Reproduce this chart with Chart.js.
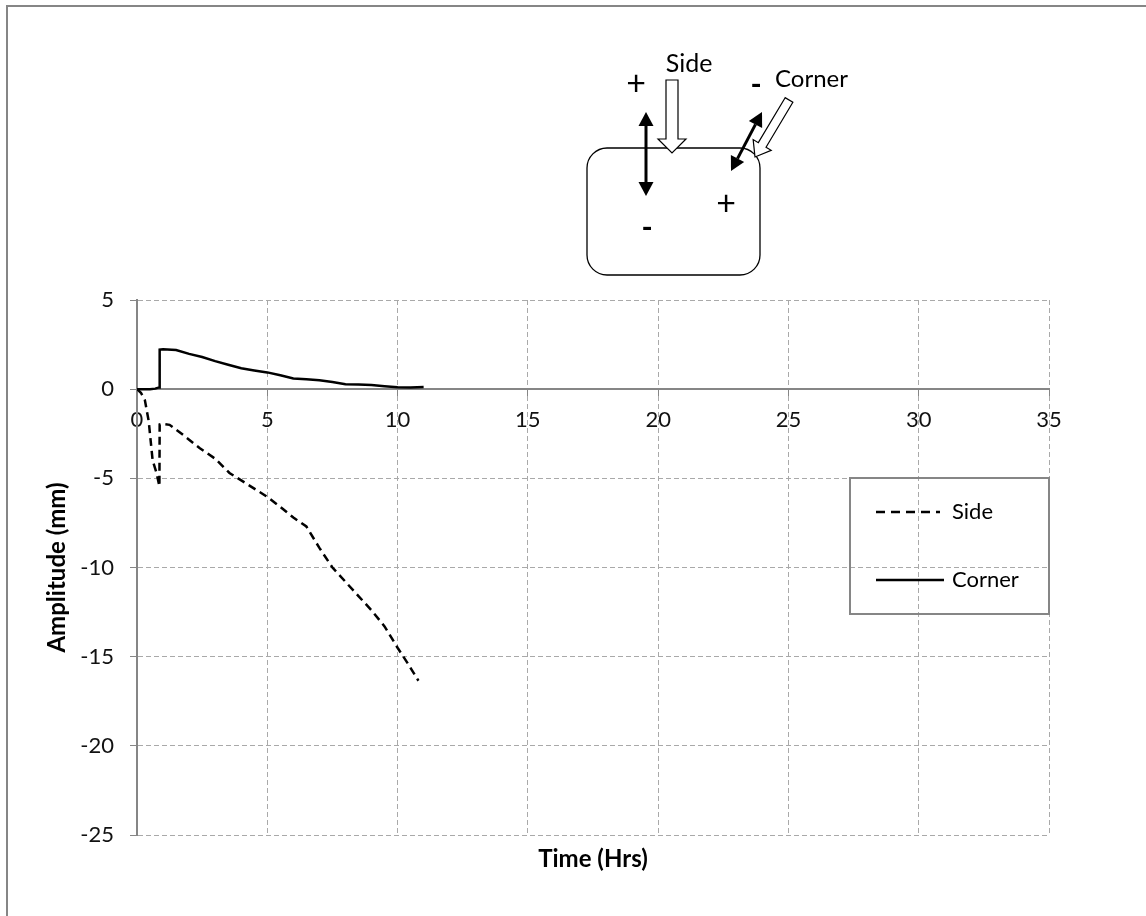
<!DOCTYPE html>
<html>
<head>
<meta charset="utf-8">
<script src="https://cdn.jsdelivr.net/npm/chart.js@4"></script>
<style>
  html, body { margin: 0; padding: 0; background: #fff; }
  #wrap { width: 1146px; height: 916px; }
</style>
</head>
<body>
<div id="wrap"><canvas id="chart" width="1146" height="916"></canvas></div>
<script>
// Corner series (solid)
const cornerTime = [0, 0.5, 0.7, 0.85, 0.87, 1.0, 1.5, 2.0, 2.5, 3.0, 3.5, 4.0, 4.5, 5.0, 5.5, 6.0, 6.5, 7.0, 7.5, 8.0, 8.5, 9.0, 9.5, 10.0, 10.5, 11.0];
const cornerAmp  = [0, 0, 0.03, 0.1, 2.22, 2.24, 2.2, 1.98, 1.8, 1.57, 1.37, 1.17, 1.05, 0.94, 0.78, 0.6, 0.55, 0.5, 0.4, 0.28, 0.26, 0.23, 0.17, 0.11, 0.1, 0.12];

// Side series (dashed)
const sideTime = [0, 0.15, 0.3, 0.45, 0.6, 0.75, 0.86, 0.87, 1.0, 1.25, 1.8, 2.4, 3.0, 3.55, 4.2, 4.96, 5.5, 6.0, 6.5, 7.0, 7.5, 8.0, 8.5, 9.0, 9.5, 10.0, 10.4, 10.8];
const sideAmp  = [0, -0.2, -0.6, -1.8, -4.0, -4.7, -5.45, -1.98, -1.95, -2.0, -2.6, -3.3, -3.9, -4.7, -5.3, -6.0, -6.6, -7.2, -7.7, -8.9, -10.0, -10.8, -11.6, -12.4, -13.3, -14.5, -15.4, -16.35];

const xTicks = [0, 5, 10, 15, 20, 25, 30, 35];
const yTicks = [5, 0, -5, -10, -15, -20, -25];

const FONT = 'Lato, Carlito, Calibri, sans-serif';
const GRID = '#a9a9a9';
const AXIS = '#868686';

const toPoints = (xs, ys) => xs.map((x, i) => ({ x, y: ys[i] }));

// block arrow (open or filled) from tail to tip
function blockArrow(ctx, x1, y1, x2, y2, shaftW, headW, headL, fill) {
  const len = Math.hypot(x2 - x1, y2 - y1);
  const dx = (x2 - x1) / len, dy = (y2 - y1) / len;
  const px = -dy, py = dx;
  const bx = x2 - dx * headL, by = y2 - dy * headL;
  ctx.beginPath();
  ctx.moveTo(x1 + px * shaftW / 2, y1 + py * shaftW / 2);
  ctx.lineTo(bx + px * shaftW / 2, by + py * shaftW / 2);
  ctx.lineTo(bx + px * headW / 2, by + py * headW / 2);
  ctx.lineTo(x2, y2);
  ctx.lineTo(bx - px * headW / 2, by - py * headW / 2);
  ctx.lineTo(bx - px * shaftW / 2, by - py * shaftW / 2);
  ctx.lineTo(x1 - px * shaftW / 2, y1 - py * shaftW / 2);
  ctx.closePath();
  ctx.fillStyle = fill;
  ctx.fill();
  ctx.lineWidth = 1.2;
  ctx.strokeStyle = '#000';
  ctx.stroke();
}

function doubleArrow(ctx, x1, y1, x2, y2) {
  const len = Math.hypot(x2 - x1, y2 - y1);
  const dx = (x2 - x1) / len, dy = (y2 - y1) / len;
  const px = -dy, py = dx;
  const hl = 14, hw = 7.5;
  ctx.strokeStyle = '#000';
  ctx.lineWidth = 3;
  ctx.beginPath();
  ctx.moveTo(x1 + dx * hl, y1 + dy * hl);
  ctx.lineTo(x2 - dx * hl, y2 - dy * hl);
  ctx.stroke();
  ctx.fillStyle = '#000';
  [[x1, y1, 1], [x2, y2, -1]].forEach(([tx, ty, s]) => {
    const bx = tx + dx * hl * s, by = ty + dy * hl * s;
    ctx.beginPath();
    ctx.moveTo(tx, ty);
    ctx.lineTo(bx + px * hw, by + py * hw);
    ctx.lineTo(bx - px * hw, by - py * hw);
    ctx.closePath();
    ctx.fill();
  });
}

const decorations = {
  id: 'decorations',
  afterDraw(chart) {
    const ctx = chart.ctx;
    const area = chart.chartArea;
    ctx.save();

    // outer frame
    ctx.strokeStyle = AXIS;
    ctx.lineWidth = 2;
    ctx.beginPath();
    ctx.moveTo(7, 916);
    ctx.lineTo(7, 6);
    ctx.lineTo(1146, 6);
    ctx.stroke();

    // axis titles
    ctx.fillStyle = '#000';
    ctx.font = 'bold 24px ' + FONT;
    ctx.textAlign = 'center';
    ctx.textBaseline = 'middle';
    ctx.fillText('Time (Hrs)', (area.left + area.right) / 2, 859);
    ctx.save();
    ctx.translate(57, (area.top + area.bottom) / 2);
    ctx.rotate(-Math.PI / 2);
    ctx.fillText('Amplitude (mm)', 0, 0);
    ctx.restore();

    // legend box
    const lx = 850, ly = 478, lw = 199, lh = 136;
    ctx.strokeStyle = AXIS;
    ctx.lineWidth = 2;
    ctx.strokeRect(lx, ly, lw, lh);
    ctx.strokeStyle = '#000';
    ctx.lineWidth = 2.5;
    ctx.setLineDash([9, 6]);
    ctx.beginPath(); ctx.moveTo(876, 512); ctx.lineTo(940, 512); ctx.stroke();
    ctx.setLineDash([]);
    ctx.beginPath(); ctx.moveTo(876, 580); ctx.lineTo(944, 580); ctx.stroke();
    ctx.font = '22px ' + FONT;
    ctx.textAlign = 'left';
    ctx.fillStyle = '#000';
    ctx.fillText('Side', 952, 512);
    ctx.fillText('Corner', 952, 580);

    // inset diagram
    ctx.strokeStyle = '#000';
    ctx.lineWidth = 1.3;
    ctx.beginPath();
    ctx.roundRect(587, 148, 173, 127, 20);
    ctx.stroke();

    ctx.font = '25px ' + FONT;
    ctx.textAlign = 'center';
    ctx.fillText('Side', 689, 64);
    ctx.font = '34px ' + FONT;
    ctx.fillText('+', 636, 84);
    ctx.fillText('+', 726, 204);
    ctx.font = 'bold 30px ' + FONT;
    ctx.fillText('-', 756, 85);
    ctx.fillText('-', 647, 228);
    ctx.font = '24px ' + FONT;
    ctx.textAlign = 'left';
    ctx.fillText('Corner', 775, 79);

    blockArrow(ctx, 672, 80, 672, 153, 12, 28, 14, '#fff');
    blockArrow(ctx, 789, 100, 755, 157, 9, 21, 14, '#fff');
    doubleArrow(ctx, 646, 112, 646, 196);
    doubleArrow(ctx, 762, 112, 731, 171);

    ctx.restore();
  }
};

new Chart(document.getElementById('chart'), {
  type: 'line',
  data: {
    datasets: [
      {
        label: 'Side',
        data: toPoints(sideTime, sideAmp),
        borderColor: '#000',
        borderWidth: 2.5,
        borderDash: [8, 5],
        pointRadius: 0,
        tension: 0,
        fill: false
      },
      {
        label: 'Corner',
        data: toPoints(cornerTime, cornerAmp),
        borderColor: '#000',
        borderWidth: 2.5,
        pointRadius: 0,
        tension: 0,
        fill: false
      }
    ]
  },
  options: {
    responsive: false,
    devicePixelRatio: 1,
    animation: false,
    layout: { padding: { left: 0, top: 300, right: 97, bottom: 81 } },
    plugins: { legend: { display: false }, tooltip: { enabled: false } },
    scales: {
      x: {
        type: 'linear',
        position: { y: 0 },
        min: 0,
        max: 35,
        afterBuildTicks: s => { s.ticks = xTicks.map(v => ({ value: v })); },
        ticks: { font: { family: FONT, size: 22 }, color: '#111', padding: 12 },
        grid: { color: GRID, lineWidth: 1, tickLength: 6, tickColor: AXIS },
        border: { color: AXIS, width: 2, dash: [5, 3] }
      },
      y: {
        type: 'linear',
        min: -25,
        max: 5,
        afterBuildTicks: s => { s.ticks = yTicks.map(v => ({ value: v })); },
        afterFit: s => { s.width = 137; },
        ticks: { font: { family: FONT, size: 22 }, color: '#111', padding: 16 },
        grid: { color: GRID, lineWidth: 1, tickLength: 7, tickColor: AXIS },
        border: { color: AXIS, width: 2, dash: [5, 3] }
      }
    }
  },
  plugins: [decorations]
});
</script>
</body>
</html>
